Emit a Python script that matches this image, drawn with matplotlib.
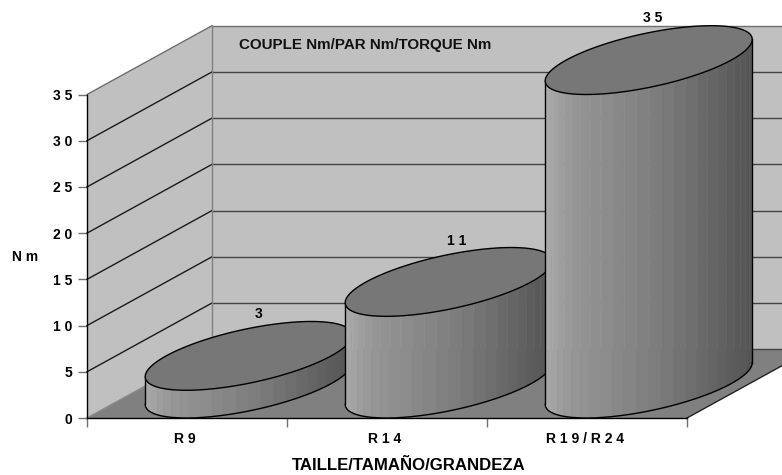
import numpy as np
import matplotlib
matplotlib.use("Agg")
import matplotlib.pyplot as plt
from matplotlib.patches import Polygon

categories = ["R 9", "R 1 4", "R 1 9 / R 2 4"]
values = [3, 11, 35]
value_labels = ["3", "1 1", "3 5"]
y_ticks = [0, 5, 10, 15, 20, 25, 30, 35]
y_tick_labels = ["0", "5", "1 0", "1 5", "2 0", "2 5", "3 0", "3 5"]
title = "COUPLE Nm/PAR Nm/TORQUE Nm"
x_title = "TAILLE/TAMAÑO/GRANDEZA"
y_title = "N m"

plt.rcParams["font.family"] = ["Liberation Sans", "DejaVu Sans"]
W, H = 782, 475
X0, X1, Y0, Y35 = 87, 687, 418, 94.5
PXV = (Y0 - Y35) / 35
fig = plt.figure(figsize=(W / 100, H / 100), dpi=100, facecolor="white")
ax = fig.add_axes([X0 / W, 1 - Y0 / H, (X1 - X0) / W, (Y0 - Y35) / H])
ax.set_xlim(0, 3)
ax.set_ylim(0, 35)
ax.patch.set_visible(False)

# depth shear of the 3-D box, in data units
DX = 125 / 200
DY = 68.8 / PXV
XEND = 3.6


def P(c, d, v):
    return (c + d * DX, v + d * DY)


WALL = "#c0c0c0"
FLOOR = "#808080"
ax.add_patch(Polygon([P(0, 0, 0), P(0, 0, 35), P(0, 1, 35), P(0, 1, 0)], fc=WALL, ec="none", clip_on=False, zorder=1))
ax.add_patch(Polygon([P(0, 1, 0), P(0, 1, 35), P(XEND, 1, 35), P(XEND, 1, 0)], fc=WALL, ec="none", clip_on=False, zorder=1))
ax.add_patch(Polygon([P(0, 0, 0), P(3, 0, 0), P(3, 1, 0), P(0, 1, 0)], fc=FLOOR, ec="none", clip_on=False, zorder=2))

for v in y_ticks:
    a, b, c = P(0, 0, v), P(0, 1, v), P(XEND, 1, v)
    if v == 0:
        ax.plot(*zip(a, b), color="#8a8a8a", lw=1, clip_on=False, zorder=3)
    else:
        ax.plot(*zip(a, b), color="#6e6e6e" if v == 35 else "#1a1a1a", lw=1, clip_on=False, zorder=3)
        ax.plot(*zip(b, c), color="#6e6e6e" if v == 35 else "#444444", lw=1, clip_on=False, zorder=3)
ax.plot(*zip(P(0, 1, 0), P(XEND, 1, 0)), color="#444444", lw=1, clip_on=False, zorder=3)
ax.plot(*zip(P(0, 1, 0), P(0, 1, 35)), color="#808080", lw=1, clip_on=False, zorder=3)
ax.plot(*zip(P(3, 0, 0), P(3, 1, 0)), color="#222222", lw=1, clip_on=False, zorder=3)

# cylinders
A, DEPTH_R = 82.5 / 200, 0.5
B = DEPTH_R * DX
T0 = np.arctan2(B, A)
z = 5
for i, v in enumerate(values):
    cx = i + 0.5 - 0.004

    def pts(t, level):
        t = np.atleast_1d(t)
        return np.c_[cx + A * np.cos(t) + B * np.sin(t) + 0.5 * DX,
                     level + DEPTH_R * DY + DEPTH_R * DY * np.sin(t)]

    ts = np.linspace(T0 - np.pi, T0, 27)
    xs = pts(ts, 0)[:, 0]
    for k in range(len(ts) - 1):
        f = (0.5 * (xs[k] + xs[k + 1]) - xs[0]) / (xs[-1] - xs[0])
        g = np.interp(f, [0, 0.12, 0.5, 1], [0.67, 0.59, 0.50, 0.33])
        seg = np.r_[pts(ts[k:k + 2], 0), pts(ts[k:k + 2], v)[::-1]]
        ax.add_patch(Polygon(seg, fc=str(g), ec=str(g), lw=0.3, clip_on=False, zorder=z))
        # faint light seam between facets, above the floor's back edge
        if k > 0:
            high = pts(ts[k], v)[0]
            lo = max(DY, pts(ts[k], 0)[0, 1])
            if high[1] > lo:
                ax.plot([high[0], high[0]], [lo, high[1]], color=str(min(g + 0.035, 1)), lw=0.5,
                        clip_on=False, zorder=z)
    fine = np.linspace(T0 - np.pi, T0, 200)
    low = pts(fine, 0)
    ax.plot(low[:, 0], low[:, 1], color="black", lw=1, clip_on=False, zorder=z + 1)
    for t in (T0 - np.pi, T0):
        l = np.r_[pts(t, 0), pts(t, v)]
        ax.plot(l[:, 0], l[:, 1], color="black", lw=1, clip_on=False, zorder=z + 1)
    top = pts(np.linspace(0, 2 * np.pi, 200), v)
    ax.add_patch(Polygon(top, fc="#777777", ec="black", lw=1, clip_on=False, zorder=z + 2))
    z += 3

label_px = [(259, 314), (457, 241), (653, 18)]
for s, (px, py) in zip(value_labels, label_px):
    ax.text((px - X0) / 200, (Y0 - py) / PXV, s, ha="center", va="center",
            fontsize=10, fontweight="bold", clip_on=False, zorder=30)

ax.text((239 - X0) / 200, (Y0 - 45) / PXV, title, ha="left", va="center",
        fontsize=10.9, fontweight="bold", color="#111111", zorder=4)

for s in ("top", "right"):
    ax.spines[s].set_visible(False)
for s in ("left", "bottom"):
    ax.spines[s].set_color("black")
    ax.spines[s].set_linewidth(1)
    ax.spines[s].set_zorder(4)
ax.set_yticks(y_ticks, y_tick_labels, fontsize=10, fontweight="bold")
ax.tick_params(axis="y", length=6.5, width=1, color="#707070", pad=4.3)
ax.set_xticks([0, 1, 2, 3], ["", "", "", ""])
ax.tick_params(axis="x", length=6.5, width=1, color="#707070")
ax.set_xticks([0.49, 1.49, 2.4875], categories, minor=True, fontsize=10, fontweight="bold")
ax.tick_params(axis="x", which="minor", length=0, pad=10)
ax.set_xlabel(x_title, fontsize=12.1, fontweight="bold")
ax.xaxis.set_label_coords((409 - X0) / 600, -(466 - Y0) / (Y0 - Y35), transform=ax.transAxes)
ax.xaxis.label.set_va("center")
ax.set_ylabel(y_title, rotation=0, fontsize=10, fontweight="bold")
ax.yaxis.set_label_coords((25 - X0) / 600, (Y0 - 257) / (Y0 - Y35), transform=ax.transAxes)
ax.yaxis.label.set_va("center")
ax.yaxis.label.set_ha("center")

fig.savefig("out.png", dpi=100, facecolor="white")
